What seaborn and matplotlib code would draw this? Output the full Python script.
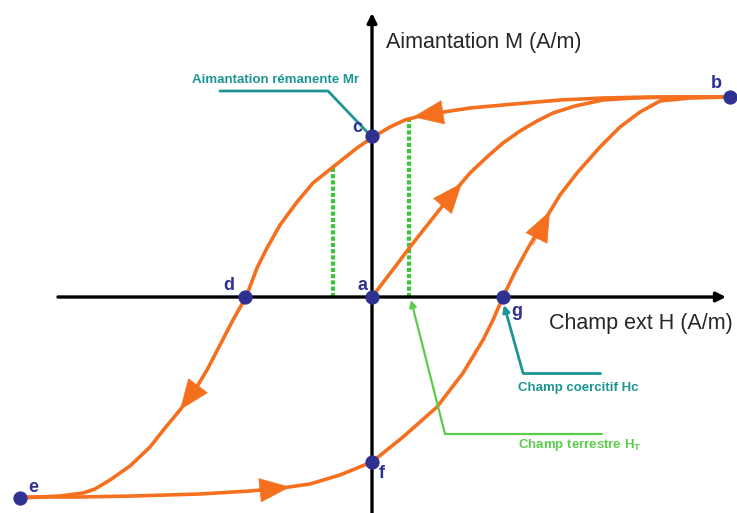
import matplotlib
matplotlib.use("Agg")
import matplotlib.pyplot as plt
import seaborn as sns
import pandas as pd

# Hysteresis loop, H and M in arbitrary units
initial_h = [0.00, 0.13, 0.26, 0.38, 0.53, 0.68, 0.81, 0.98, 1.15, 1.31, 1.48,
             1.65, 1.81, 2.03, 2.31, 2.63, 2.98, 3.28, 3.58]
initial_m = [0.00, 0.17, 0.34, 0.50, 0.69, 0.88, 1.04, 1.24, 1.40, 1.54, 1.66,
             1.76, 1.84, 1.91, 1.97, 1.99, 2.00, 2.00, 2.00]

upper_h = [3.58, 3.18, 2.78, 2.31, 1.88, 1.31, 0.98, 0.65, 0.48, 0.33, 0.18,
           0.01, -0.15, -0.39, -0.59, -0.75, -0.92, -1.05, -1.15, -1.26, -1.39,
           -1.52, -1.65, -1.77, -1.92, -2.07, -2.22, -2.42, -2.62, -2.77, -2.89,
           -3.12, -3.32, -3.52]
upper_m = [2.00, 2.00, 2.00, 1.99, 1.97, 1.92, 1.89, 1.84, 1.81, 1.77, 1.70,
           1.60, 1.49, 1.30, 1.14, 0.95, 0.72, 0.49, 0.29, 0.00, -0.23,
           -0.48, -0.73, -0.93, -1.13, -1.31, -1.50, -1.69, -1.83, -1.92, -1.96,
           -1.99, -2.00, -2.01]

lower_h = [-3.52, -2.92, -2.39, -1.72, -1.22, -0.90, -0.62, -0.32, 0.00, 0.31,
           0.65, 0.91, 1.11, 1.21, 1.31, 1.43, 1.56, 1.71, 1.88, 2.05, 2.28,
           2.48, 2.68, 2.88, 3.18, 3.58]
lower_m = [-2.00, -2.00, -1.99, -1.97, -1.94, -1.91, -1.87, -1.78, -1.65, -1.40,
           -1.10, -0.76, -0.43, -0.23, 0.00, 0.25, 0.49, 0.74, 1.02, 1.24, 1.50,
           1.70, 1.85, 1.96, 1.99, 2.00]

# named points a..g
point_names = ["a", "b", "c", "d", "e", "f", "g"]
point_h = [0.00, 3.58, 0.00, -1.27, -3.52, 0.00, 1.31]
point_m = [0.00, 2.00, 1.61, 0.00, -2.01, -1.65, 0.00]

# direction arrows on the curves: (tail, tip)
arrow_tail_h = [0.73, -1.72, -1.10, 0.68, 1.61]
arrow_tail_m = [1.85, -0.86, -1.93, 0.88, 0.52]
arrow_tip_h = [0.41, -1.92, -0.82, 0.90, 1.78]
arrow_tip_m = [1.80, -1.13, -1.90, 1.14, 0.86]

# earth field markers (green dotted)
ht_h = [-0.39, 0.37]
ht_top = [1.30, 1.80]

ORANGE = "#f4701f"
NAVY = "#2e3192"
TEAL = "#1c9594"
GREEN = "#3cc43c"
LGREEN = "#5ccc4c"

sns.set_style("white")
plt.rcParams["font.family"] = ["Liberation Sans", "DejaVu Sans"]
plt.rcParams["mathtext.fontset"] = "custom"
plt.rcParams["mathtext.rm"] = "Liberation Sans"
plt.rcParams["mathtext.bf"] = "Liberation Sans:bold"

fig = plt.figure(figsize=(7.37, 5.13), dpi=100)
ax = fig.add_axes([0, 0, 1, 1])
ax.set_xlim(-3.72, 3.65)
ax.set_ylim(-2.16, 2.97)
ax.axis("off")

# axes with arrows
ax.annotate("", xy=(3.54, 0), xytext=(-3.14, 0),
            arrowprops=dict(arrowstyle="-|>", color="black", lw=2.4,
                            mutation_scale=14, shrinkA=0, shrinkB=0))
ax.annotate("", xy=(0, 2.84), xytext=(0, -2.2),
            arrowprops=dict(arrowstyle="-|>", color="black", lw=2.4,
                            mutation_scale=14, shrinkA=0, shrinkB=0))

# green dotted lines
for h, top in zip(ht_h, ht_top):
    ax.plot([h, h], [0, top], color=GREEN, lw=3, ls=(0, (1, 0.5)), zorder=2)

# curves
for hs, ms in [(initial_h, initial_m), (upper_h, upper_m), (lower_h, lower_m)]:
    df = pd.DataFrame({"H": hs, "M": ms})
    sns.lineplot(data=df, x="H", y="M", sort=False, color=ORANGE, lw=2.6,
                 ax=ax, zorder=3, solid_joinstyle="round", solid_capstyle="round")

for th, tm, hh, hm in zip(arrow_tail_h, arrow_tail_m, arrow_tip_h, arrow_tip_m):
    ax.annotate("", xy=(hh, hm), xytext=(th, tm),
                arrowprops=dict(arrowstyle="-|>,head_length=1.0,head_width=0.4",
                                color=ORANGE, lw=0.5, mutation_scale=21,
                                shrinkA=0, shrinkB=0), zorder=4)

# annotation leaders
ax.plot([-1.52, -0.44, -0.03], [2.06, 2.06, 1.63], color=TEAL, lw=2, zorder=5)
ax.text(-1.80, 2.17, "Aimantation rémanente Mr", color=TEAL, fontsize=9.5,
        fontweight="bold", va="center", ha="left")

ax.plot([2.28, 1.51], [-0.76, -0.76], color=TEAL, lw=2, zorder=5)
ax.annotate("", xy=(1.32, -0.08), xytext=(1.51, -0.76),
            arrowprops=dict(arrowstyle="-|>", color=TEAL, lw=2,
                            mutation_scale=10, shrinkA=0, shrinkB=0), zorder=5)
ax.text(1.46, -0.91, "Champ coercitif Hc", color=TEAL, fontsize=9.5,
        fontweight="bold", va="center", ha="left")

ax.plot([2.30, 0.73], [-1.37, -1.37], color=LGREEN, lw=1.6, zorder=5)
ax.annotate("", xy=(0.39, -0.03), xytext=(0.73, -1.37),
            arrowprops=dict(arrowstyle="-|>", color=LGREEN, lw=1.6,
                            mutation_scale=10, shrinkA=0, shrinkB=0), zorder=5)
ax.text(1.46, -1.48, r"Champ terrestre H$_\mathbf{T}$", color=LGREEN,
        fontsize=9.5, fontweight="bold", va="center", ha="left")

# axis titles
ax.text(0.14, 2.55, "Aimantation M (A/m)", fontsize=15.5, va="center", ha="left")
ax.text(1.77, -0.26, "Champ ext H (A/m)", fontsize=15.5, va="center", ha="left")

# points and labels
pts = pd.DataFrame({"H": point_h, "M": point_m, "name": point_names})
sns.scatterplot(data=pts, x="H", y="M", color=NAVY, s=90, edgecolor=NAVY,
                ax=ax, zorder=6)
label_dx = [-0.10, -0.14, -0.15, -0.16, 0.13, 0.10, 0.14]
label_dy = [0.12, 0.14, 0.08, 0.12, 0.10, -0.11, -0.15]
for name, h, m, dx, dy in zip(point_names, point_h, point_m, label_dx, label_dy):
    ax.text(h + dx, m + dy, name, color=NAVY, fontsize=13, fontweight="bold",
            ha="center", va="center", zorder=7)

ax.set_xlabel("")
ax.set_ylabel("")
fig.savefig("out.png", dpi=100)
